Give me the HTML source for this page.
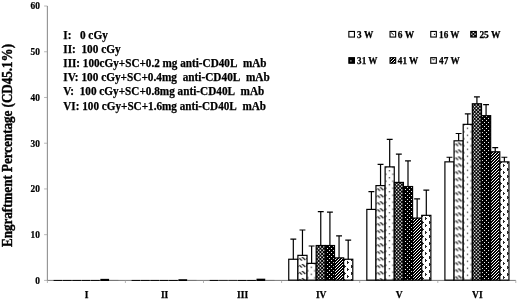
<!DOCTYPE html>
<html><head><meta charset="utf-8"><title>Engraftment Percentage</title>
<style>
html,body{margin:0;padding:0;background:#fff;}
svg{display:block;}
text{font-family:"Liberation Serif","Times New Roman",serif;font-weight:bold;fill:#000;stroke:#000;stroke-width:0.25px;}
.tk{font-size:9.4px;stroke-width:0.2px;}
.ct{font-size:9.5px;}
.lg{font-size:11.45px;}
.lb{font-size:9.3px;}
.yt{font-size:14.3px;stroke-width:0.4px;}
</style></head><body>
<svg width="520" height="302" viewBox="0 0 520 302">
<defs>
<pattern id="p25" width="7" height="7" patternUnits="userSpaceOnUse"><rect width="7" height="7" fill="#000"/><rect x="0.150" y="0.150" width="1.45" height="1.45" fill="#e8e8e8"/><rect x="0.150" y="3.650" width="1.45" height="1.45" fill="#e8e8e8"/><rect x="1.900" y="1.900" width="1.45" height="1.45" fill="#e8e8e8"/><rect x="1.900" y="5.400" width="1.45" height="1.45" fill="#e8e8e8"/><rect x="3.650" y="0.150" width="1.45" height="1.45" fill="#e8e8e8"/><rect x="3.650" y="3.650" width="1.45" height="1.45" fill="#e8e8e8"/><rect x="5.400" y="1.900" width="1.45" height="1.45" fill="#e8e8e8"/><rect x="5.400" y="5.400" width="1.45" height="1.45" fill="#e8e8e8"/></pattern>
<pattern id="p31" width="4" height="4" patternUnits="userSpaceOnUse"><rect width="4" height="4" fill="#000"/><rect x="0" y="0" width="1" height="1" fill="#f0f0f0"/><rect x="2" y="2" width="1" height="1" fill="#f0f0f0"/></pattern>
<pattern id="p41" width="3" height="3" patternUnits="userSpaceOnUse"><rect width="3" height="3" fill="#000"/><rect x="2" y="0" width="1" height="1" fill="#fff"/><rect x="1" y="1" width="1" height="1" fill="#fff"/><rect x="0" y="2" width="1" height="1" fill="#fff"/></pattern>
<pattern id="p6" width="7" height="7" patternUnits="userSpaceOnUse"><rect width="7" height="7" fill="#fff"/><path d="M0.2 1.2L2.6 3.6M2.7 -0.1L6.1 3.0" stroke="#000" stroke-width="1.15" fill="none"/></pattern>
<pattern id="p16" width="7" height="7" patternUnits="userSpaceOnUse"><rect width="7" height="7" fill="#fff"/><rect x="1" y="1" width="1.2" height="1.2" fill="#222"/><rect x="4.5" y="4.5" width="1.2" height="1.2" fill="#222"/></pattern>
<pattern id="p47" width="7" height="7" patternUnits="userSpaceOnUse"><rect width="7" height="7" fill="#fff"/><path d="M1 0h1v1h1v1h-1v1h-1zM5 4h1v1h1v1h-1v1h-1z" fill="#2a2a2a"/></pattern>
<filter id="soft" x="-5%" y="-5%" width="110%" height="110%"><feGaussianBlur stdDeviation="0.32"/></filter>
</defs>
<rect width="520" height="302" fill="#fff"/>
<line x1="47.35" y1="6" x2="47.35" y2="280.4" stroke="#777" stroke-width="0.9"/>
<line x1="47.35" y1="280.4" x2="515.8" y2="280.4" stroke="#555" stroke-width="0.8"/>
<line x1="44.1" y1="280.40" x2="47.4" y2="280.40" stroke="#999" stroke-width="0.7"/>
<text transform="translate(39.9 283.70) scale(1 1.07)" text-anchor="end" class="tk">0</text>
<line x1="44.1" y1="234.67" x2="47.4" y2="234.67" stroke="#999" stroke-width="0.7"/>
<text transform="translate(39.9 237.97) scale(1 1.07)" text-anchor="end" class="tk">10</text>
<line x1="44.1" y1="188.94" x2="47.4" y2="188.94" stroke="#999" stroke-width="0.7"/>
<text transform="translate(39.9 192.24) scale(1 1.07)" text-anchor="end" class="tk">20</text>
<line x1="44.1" y1="143.21" x2="47.4" y2="143.21" stroke="#999" stroke-width="0.7"/>
<text transform="translate(39.9 146.51) scale(1 1.07)" text-anchor="end" class="tk">30</text>
<line x1="44.1" y1="97.48" x2="47.4" y2="97.48" stroke="#999" stroke-width="0.7"/>
<text transform="translate(39.9 100.78) scale(1 1.07)" text-anchor="end" class="tk">40</text>
<line x1="44.1" y1="51.75" x2="47.4" y2="51.75" stroke="#999" stroke-width="0.7"/>
<text transform="translate(39.9 55.05) scale(1 1.07)" text-anchor="end" class="tk">50</text>
<line x1="44.1" y1="6.02" x2="47.4" y2="6.02" stroke="#999" stroke-width="0.7"/>
<text transform="translate(39.9 9.32) scale(1 1.07)" text-anchor="end" class="tk">60</text>
<line x1="47.4" y1="280.4" x2="47.4" y2="283.0" stroke="#999" stroke-width="0.7"/>
<line x1="125.4" y1="280.4" x2="125.4" y2="283.0" stroke="#999" stroke-width="0.7"/>
<line x1="203.5" y1="280.4" x2="203.5" y2="283.0" stroke="#999" stroke-width="0.7"/>
<line x1="281.6" y1="280.4" x2="281.6" y2="283.0" stroke="#999" stroke-width="0.7"/>
<line x1="359.7" y1="280.4" x2="359.7" y2="283.0" stroke="#999" stroke-width="0.7"/>
<line x1="437.8" y1="280.4" x2="437.8" y2="283.0" stroke="#999" stroke-width="0.7"/>
<line x1="515.8" y1="280.4" x2="515.8" y2="283.0" stroke="#999" stroke-width="0.7"/>
<text x="86.5" y="297.9" text-anchor="middle" class="ct">I</text>
<text x="164.6" y="297.9" text-anchor="middle" class="ct">II</text>
<text x="242.6" y="297.9" text-anchor="middle" class="ct">III</text>
<text x="321.2" y="297.9" text-anchor="middle" class="ct">IV</text>
<text x="399.3" y="297.9" text-anchor="middle" class="ct">V</text>
<text x="477.4" y="297.9" text-anchor="middle" class="ct">VI</text>
<g filter="url(#soft)">
<rect x="53.55" y="279.95" width="8.76" height="1.05" fill="#111"/>
<rect x="62.91" y="279.95" width="8.76" height="1.05" fill="#111"/>
<rect x="72.27" y="279.95" width="8.76" height="1.05" fill="#111"/>
<rect x="81.63" y="279.95" width="8.76" height="1.05" fill="#111"/>
<rect x="90.99" y="279.95" width="8.76" height="1.05" fill="#111"/>
<rect x="100.35" y="278.85" width="8.76" height="2.15" fill="#000"/>
<rect x="109.71" y="279.95" width="8.76" height="1.05" fill="#777"/>
<rect x="131.63" y="279.95" width="8.76" height="1.05" fill="#111"/>
<rect x="140.99" y="279.95" width="8.76" height="1.05" fill="#111"/>
<rect x="150.35" y="279.95" width="8.76" height="1.05" fill="#111"/>
<rect x="159.71" y="279.95" width="8.76" height="1.05" fill="#111"/>
<rect x="169.07" y="279.95" width="8.76" height="1.05" fill="#111"/>
<rect x="178.43" y="279.22" width="8.76" height="1.78" fill="#000"/>
<rect x="187.79" y="279.95" width="8.76" height="1.05" fill="#777"/>
<rect x="209.71" y="279.95" width="8.76" height="1.05" fill="#111"/>
<rect x="219.07" y="279.95" width="8.76" height="1.05" fill="#333"/>
<rect x="228.43" y="279.95" width="8.76" height="1.05" fill="#333"/>
<rect x="237.79" y="279.95" width="8.76" height="1.05" fill="#111"/>
<rect x="247.15" y="279.95" width="8.76" height="1.05" fill="#111"/>
<rect x="256.51" y="278.67" width="8.76" height="2.33" fill="#000"/>
<rect x="265.87" y="279.95" width="8.76" height="1.05" fill="#777"/>
<rect x="288.74" y="259.25" width="9.15" height="20.90" fill="#fff" stroke="#000" stroke-width="1.2"/>
<path d="M293.31 259.25V239.13M290.37 239.13H296.26" stroke="#000" stroke-width="1.2" fill="none"/>
<g transform="translate(299.29 256.96)"><rect x="-1.40" y="-1.60" width="9.15" height="24.79" fill="url(#p6)" stroke="#000" stroke-width="1.2"/></g>
<path d="M302.46 255.36V229.98M299.51 229.98H305.41" stroke="#000" stroke-width="1.2" fill="none"/>
<g transform="translate(309.69 265.67)"><rect x="-2.65" y="-2.30" width="9.15" height="16.78" fill="url(#p16)" stroke="#000" stroke-width="1.2"/></g>
<path d="M311.62 263.37V245.99M308.67 245.99H314.56" stroke="#000" stroke-width="1.2" fill="none"/>
<g transform="translate(316.00 246.00)"><rect x="0.19" y="-0.47" width="9.15" height="34.62" fill="url(#p25)" stroke="#000" stroke-width="1.2"/></g>
<path d="M320.76 245.53V211.69M317.81 211.69H323.71" stroke="#000" stroke-width="1.2" fill="none"/>
<g transform="translate(325.00 246.00)"><rect x="0.34" y="-0.47" width="9.15" height="34.62" fill="url(#p31)" stroke="#000" stroke-width="1.2"/></g>
<path d="M329.92 245.53V212.15M326.97 212.15H332.87" stroke="#000" stroke-width="1.2" fill="none"/>
<g transform="translate(334.00 258.00)"><rect x="0.49" y="-0.12" width="9.15" height="22.27" fill="url(#p41)" stroke="#000" stroke-width="1.2"/></g>
<path d="M339.06 257.88V235.93M336.12 235.93H342.01" stroke="#000" stroke-width="1.2" fill="none"/>
<g transform="translate(346.00 261.00)"><rect x="-2.36" y="-1.75" width="9.15" height="20.90" fill="url(#p47)" stroke="#000" stroke-width="1.2"/></g>
<path d="M348.21 259.25V240.04M345.26 240.04H351.16" stroke="#000" stroke-width="1.2" fill="none"/>
<rect x="366.82" y="209.41" width="9.15" height="70.74" fill="#fff" stroke="#000" stroke-width="1.2"/>
<path d="M371.39 209.41V191.57M368.44 191.57H374.34" stroke="#000" stroke-width="1.2" fill="none"/>
<g transform="translate(377.37 187.23)"><rect x="-1.40" y="-1.60" width="9.15" height="94.52" fill="url(#p6)" stroke="#000" stroke-width="1.2"/></g>
<path d="M380.54 185.63V164.36M377.59 164.36H383.49" stroke="#000" stroke-width="1.2" fill="none"/>
<g transform="translate(387.77 169.18)"><rect x="-2.65" y="-2.30" width="9.15" height="113.27" fill="url(#p16)" stroke="#000" stroke-width="1.2"/></g>
<path d="M389.69 166.88V139.44M386.75 139.44H392.64" stroke="#000" stroke-width="1.2" fill="none"/>
<g transform="translate(394.00 182.00)"><rect x="0.27" y="0.42" width="9.15" height="97.73" fill="url(#p25)" stroke="#000" stroke-width="1.2"/></g>
<path d="M398.84 182.42V154.07M395.89 154.07H401.79" stroke="#000" stroke-width="1.2" fill="none"/>
<g transform="translate(403.00 187.00)"><rect x="0.42" y="-0.46" width="9.15" height="93.61" fill="url(#p31)" stroke="#000" stroke-width="1.2"/></g>
<path d="M408.00 186.54V160.93M405.05 160.93H410.94" stroke="#000" stroke-width="1.2" fill="none"/>
<g transform="translate(413.00 218.00)"><rect x="-0.43" y="0.09" width="9.15" height="62.06" fill="url(#p41)" stroke="#000" stroke-width="1.2"/></g>
<path d="M417.14 218.09V198.89M414.19 198.89H420.09" stroke="#000" stroke-width="1.2" fill="none"/>
<g transform="translate(424.00 217.00)"><rect x="-2.28" y="-1.65" width="9.15" height="64.80" fill="url(#p47)" stroke="#000" stroke-width="1.2"/></g>
<path d="M426.30 215.35V190.20M423.35 190.20H429.25" stroke="#000" stroke-width="1.2" fill="none"/>
<rect x="444.90" y="161.85" width="9.15" height="118.30" fill="#fff" stroke="#000" stroke-width="1.2"/>
<path d="M449.47 161.85V157.27M446.52 157.27H452.42" stroke="#000" stroke-width="1.2" fill="none"/>
<g transform="translate(455.45 142.41)"><rect x="-1.40" y="-1.60" width="9.15" height="139.34" fill="url(#p6)" stroke="#000" stroke-width="1.2"/></g>
<path d="M458.62 140.81V133.49M455.67 133.49H461.57" stroke="#000" stroke-width="1.2" fill="none"/>
<g transform="translate(465.85 126.65)"><rect x="-2.65" y="-2.30" width="9.15" height="155.80" fill="url(#p16)" stroke="#000" stroke-width="1.2"/></g>
<path d="M467.77 124.35V113.83M464.82 113.83H470.72" stroke="#000" stroke-width="1.2" fill="none"/>
<g transform="translate(472.00 104.00)"><rect x="0.35" y="-0.23" width="9.15" height="176.38" fill="url(#p25)" stroke="#000" stroke-width="1.2"/></g>
<path d="M476.92 103.77V96.91M473.97 96.91H479.87" stroke="#000" stroke-width="1.2" fill="none"/>
<g transform="translate(482.00 116.00)"><rect x="-0.50" y="-0.34" width="9.15" height="164.49" fill="url(#p31)" stroke="#000" stroke-width="1.2"/></g>
<path d="M486.07 115.66V104.68M483.12 104.68H489.02" stroke="#000" stroke-width="1.2" fill="none"/>
<g transform="translate(491.00 152.00)"><rect x="-0.35" y="-0.21" width="9.15" height="128.36" fill="url(#p41)" stroke="#000" stroke-width="1.2"/></g>
<path d="M495.22 151.79V147.67M492.27 147.67H498.17" stroke="#000" stroke-width="1.2" fill="none"/>
<g transform="translate(502.00 164.00)"><rect x="-2.20" y="-2.15" width="9.15" height="118.30" fill="url(#p47)" stroke="#000" stroke-width="1.2"/></g>
<path d="M504.37 161.85V157.27M501.42 157.27H507.32" stroke="#000" stroke-width="1.2" fill="none"/>
</g>
<text x="63.3" y="38.65" class="lg" xml:space="preserve" textLength="44.5" lengthAdjust="spacingAndGlyphs">I:   0 cGy</text>
<text x="63.3" y="52.84" class="lg" xml:space="preserve" textLength="57.3" lengthAdjust="spacingAndGlyphs">II:  100 cGy</text>
<text x="63.3" y="67.03" class="lg" xml:space="preserve" textLength="203.2" lengthAdjust="spacingAndGlyphs">III: 100cGy+SC+0.2 mg anti-CD40L  mAb</text>
<text x="63.3" y="81.22" class="lg" xml:space="preserve" textLength="206.5" lengthAdjust="spacingAndGlyphs">IV: 100 cGy+SC+0.4mg  anti-CD40L  mAb</text>
<text x="63.3" y="95.41" class="lg" xml:space="preserve" textLength="201.0" lengthAdjust="spacingAndGlyphs">V:  100 cGy+SC+0.8mg anti-CD40L  mAb</text>
<text x="63.3" y="109.60" class="lg" xml:space="preserve" textLength="202.7" lengthAdjust="spacingAndGlyphs">VI: 100 cGy+SC+1.6mg anti-CD40L  mAb</text>
<g transform="translate(348.30 30.90)"><rect x="0.55" y="0.55" width="5.6" height="5.6" fill="#fff" stroke="#000" stroke-width="1.1"/></g>
<text x="357.1" y="37.55" class="lb" textLength="16.1" lengthAdjust="spacingAndGlyphs">3 W</text>
<g transform="translate(389.50 30.90)"><rect x="0.55" y="0.55" width="5.6" height="5.6" fill="#fff" stroke="#000" stroke-width="1.1"/><path d="M1.6 1.7L4.3 4.1" stroke="#000" stroke-width="1" fill="none"/></g>
<text x="397.8" y="37.55" class="lb" textLength="16.3" lengthAdjust="spacingAndGlyphs">6 W</text>
<g transform="translate(430.20 30.90)"><rect x="0.55" y="0.55" width="5.6" height="5.6" fill="#fff" stroke="#000" stroke-width="1.1"/><rect x="3.7" y="2.9" width="1.2" height="1.2" fill="#222"/></g>
<text x="439.1" y="37.55" class="lb" textLength="20.4" lengthAdjust="spacingAndGlyphs">16 W</text>
<rect x="470.75" y="31.45" width="5.6" height="5.6" fill="url(#p25)" stroke="#000" stroke-width="1.1"/>
<text x="479.4" y="37.55" class="lb" textLength="21.1" lengthAdjust="spacingAndGlyphs">25 W</text>
<g transform="translate(348.30 57.10)"><rect x="0.55" y="0.55" width="5.6" height="5.6" fill="#000" stroke="#000" stroke-width="1.1"/><rect x="2" y="3.2" width="1.2" height="1.2" fill="#ddd"/></g>
<text x="357.1" y="63.75" class="lb" textLength="20.4" lengthAdjust="spacingAndGlyphs">31 W</text>
<rect x="390.05" y="57.65" width="5.6" height="5.6" fill="url(#p41)" stroke="#000" stroke-width="1.1"/>
<text x="397.8" y="63.75" class="lb" textLength="20.5" lengthAdjust="spacingAndGlyphs">41 W</text>
<g transform="translate(430.20 57.10)"><rect x="0.55" y="0.55" width="5.6" height="5.6" fill="#fff" stroke="#000" stroke-width="1.1"/><path d="M2.1 1.5L3.3 3.1L4.5 1.5" stroke="#111" stroke-width="0.9" fill="none"/></g>
<text x="439.1" y="63.75" class="lb" textLength="20.6" lengthAdjust="spacingAndGlyphs">47 W</text>
<text class="yt" transform="translate(12 145.5) rotate(-90)" text-anchor="middle" textLength="203" lengthAdjust="spacingAndGlyphs">Engraftment Percentage (CD45.1%)</text>
</svg>
</body></html>
